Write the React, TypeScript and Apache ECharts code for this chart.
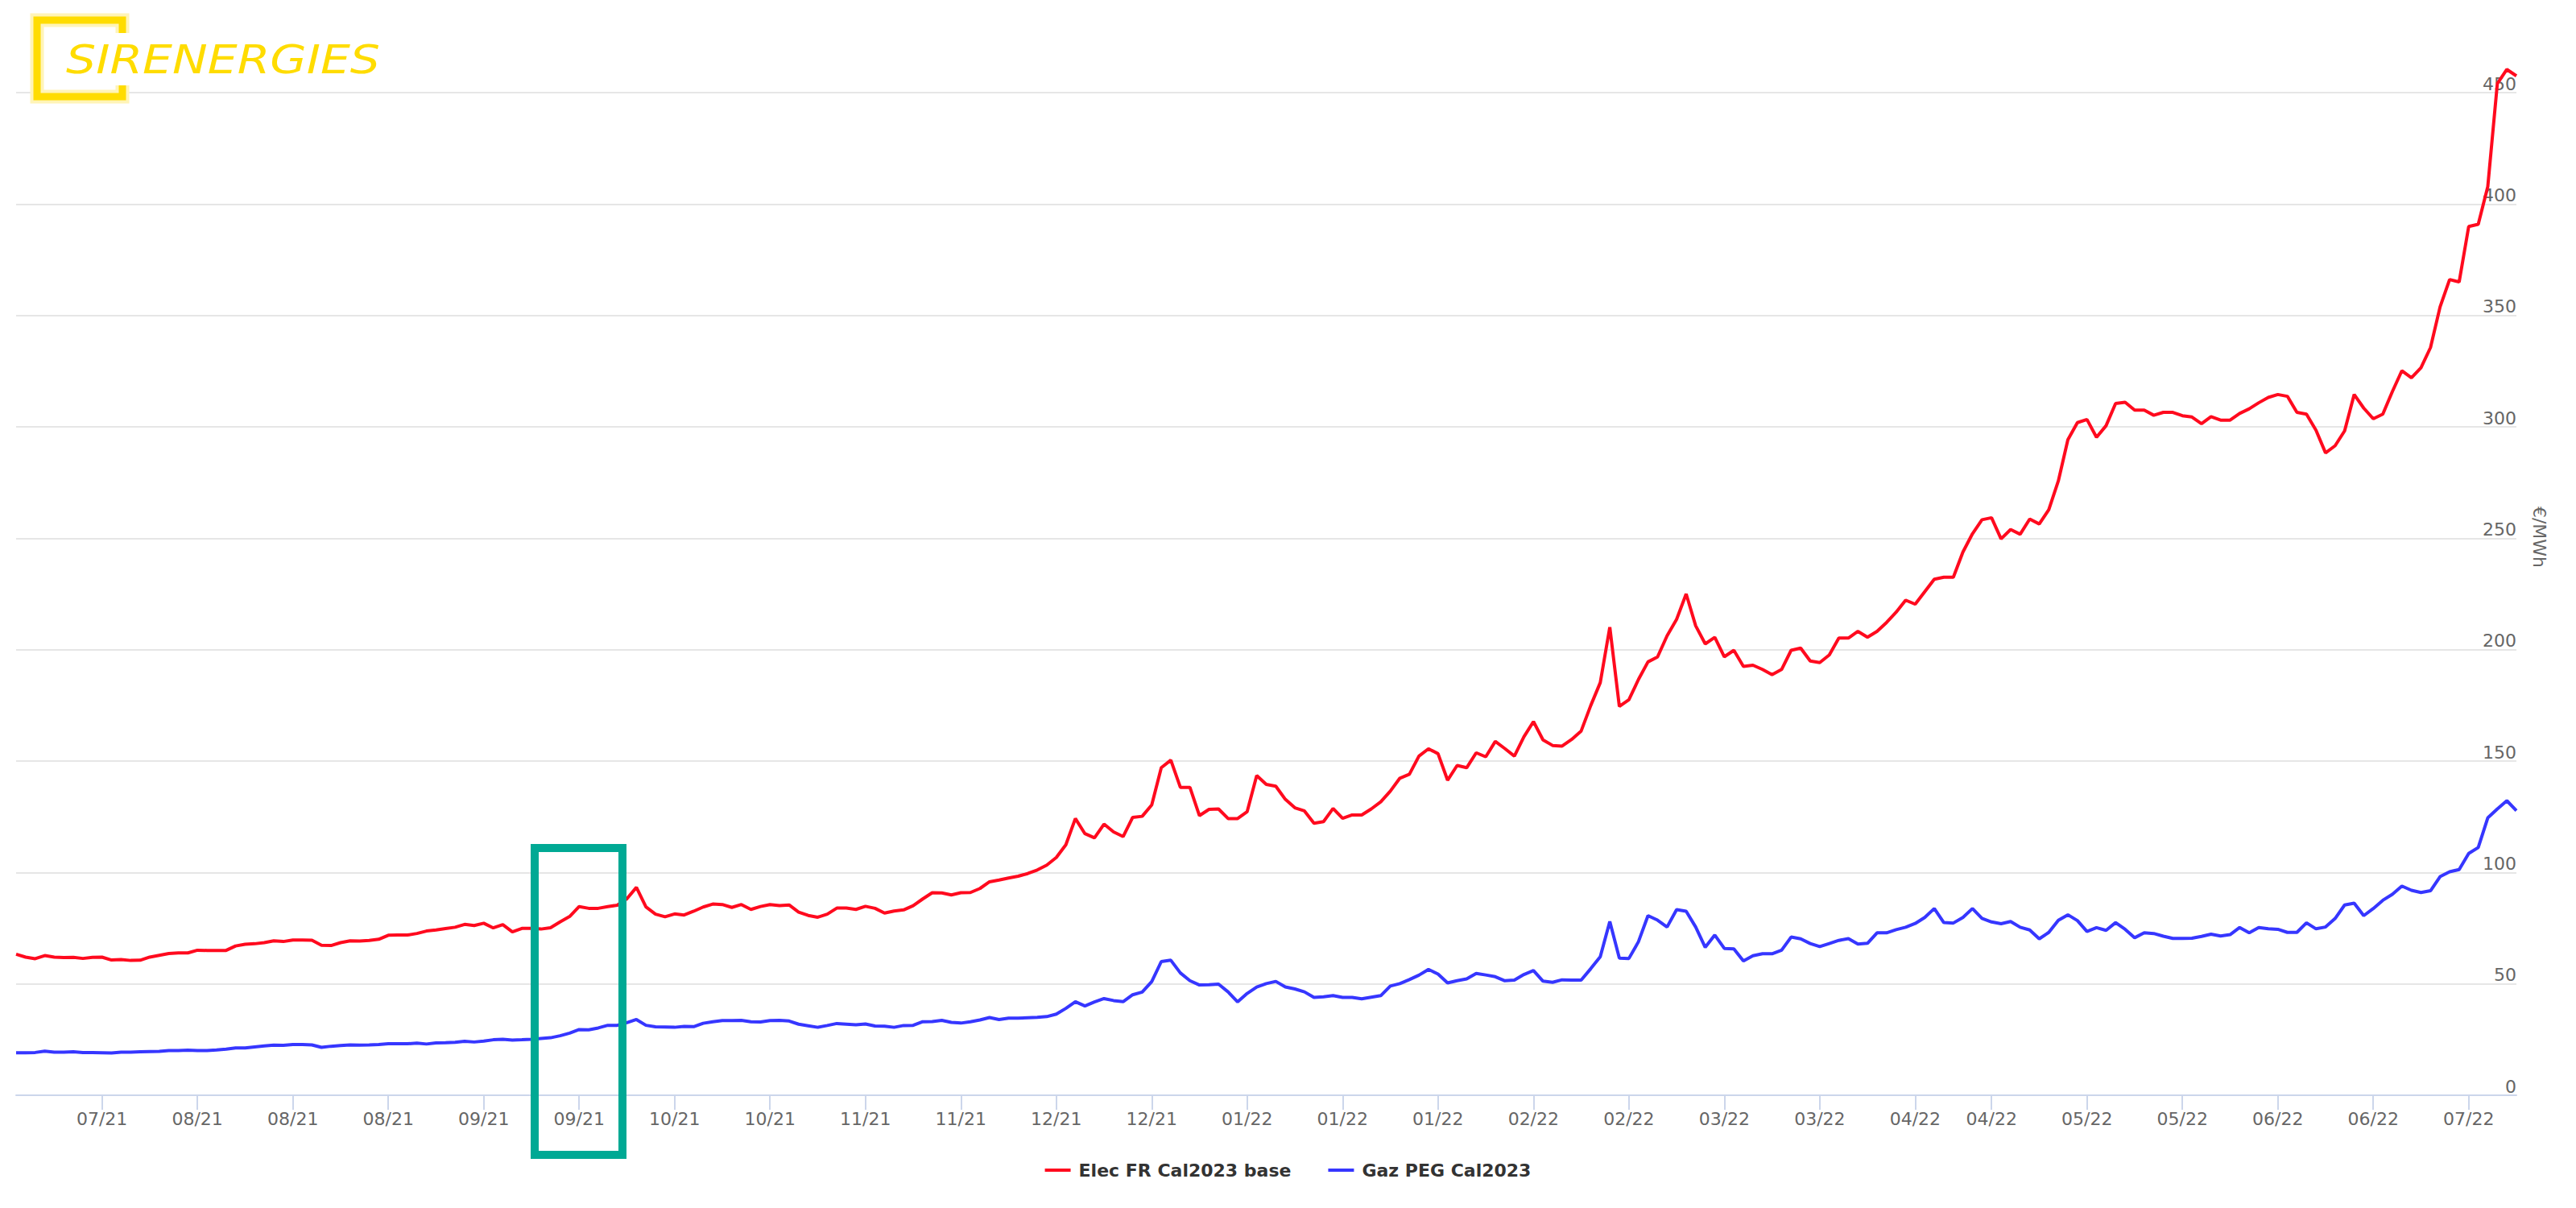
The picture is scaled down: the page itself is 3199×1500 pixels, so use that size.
import { useEffect, useRef } from "react";
import * as echarts from "echarts";

// ---- Data -------------------------------------------------------------
const FIRST_TRADING_DAY = "2021-07-06";
const MARKET_HOLIDAYS = ["2022-04-15", "2022-04-18"];
const TICK_ANCHOR_DAY = "2021-07-19";
const TICK_EVERY_DAYS = 14;

const SERIES_NAMES = ["Elec FR Cal2023 base", "Gaz PEG Cal2023"];
const SERIES_COLORS = ["#FF0A1E", "#3636FF"];
const UNIT_LABEL = "€/MWh";
const LOGO_TEXT = "SIRENERGIES";

const Y_MIN = 0;
const Y_MAX = 450;
const Y_STEP = 50;

const ELEC_FR_CAL2023 = [
  63.3, 62.0, 61.3, 62.7, 62.0, 61.8, 61.9, 61.4, 61.9, 62.0,
  60.7, 60.9, 60.5, 60.6, 62.0, 62.8, 63.6, 63.9, 63.9, 65.1,
  65.0, 65.0, 65.0, 67.0, 67.8, 68.0, 68.5, 69.3, 69.0, 69.7,
  69.7, 69.6, 67.3, 67.2, 68.5, 69.3, 69.2, 69.5, 70.0, 71.8,
  71.9, 71.9, 72.6, 73.7, 74.2, 74.8, 75.4, 76.7, 76.2, 77.2,
  75.1, 76.6, 73.3, 74.9, 74.9, 74.6, 75.2, 77.8, 80.2, 84.7,
  83.9, 83.9, 84.7, 85.3, 88.2, 93.3, 84.5, 81.3, 80.1, 81.4,
  80.9, 82.6, 84.5, 85.8, 85.6, 84.3, 85.6, 83.4, 84.7, 85.6,
  85.1, 85.4, 82.2, 80.7, 79.9, 81.3, 84.0, 84.0, 83.4, 84.8,
  83.9, 81.8, 82.7, 83.2, 85.1, 88.1, 90.9, 90.8, 89.9, 90.9,
  91.0, 92.8, 95.8, 96.6, 97.5, 98.3, 99.5, 101.1, 103.3, 106.7,
  112.4, 124.2, 117.4, 115.5, 121.7, 118.2, 116.1, 124.7, 125.2, 130.3,
  147.0, 150.4, 138.2, 138.2, 125.5, 128.3, 128.5, 124.2, 124.2, 127.3,
  143.5, 139.5, 138.7, 132.8, 129.0, 127.6, 122.1, 122.8, 128.7, 124.3,
  125.8, 125.8, 128.5, 131.7, 136.5, 142.3, 144.1, 152.2, 155.5, 153.3,
  141.4, 148.0, 147.0, 153.7, 151.9, 158.8, 155.6, 152.2, 160.9, 167.7,
  159.5, 157.0, 156.7, 159.7, 163.5, 174.9, 185.2, 210.1, 174.5, 177.5,
  186.6, 194.5, 196.7, 206.2, 213.6, 225.0, 210.7, 202.6, 205.5, 196.8,
  199.7, 192.5, 193.0, 191.1, 188.8, 191.1, 199.7, 200.7, 194.9, 194.2,
  197.6, 205.2, 205.2, 208.2, 205.6, 208.2, 212.2, 216.8, 222.2, 220.4,
  226.0, 231.6, 232.5, 232.5, 243.8, 252.0, 258.3, 259.2, 249.7, 253.9,
  251.8, 258.6, 256.4, 262.8, 275.7, 294.2, 301.9, 303.3, 295.3, 300.5,
  310.5, 311.0, 307.5, 307.5, 305.2, 306.5, 306.5, 305.0, 304.4, 301.4,
  304.6, 303.0, 303.0, 306.0, 308.1, 310.8, 313.2, 314.5, 313.7, 306.5,
  305.7, 298.5, 288.3, 291.5, 298.2, 314.5, 308.4, 303.6, 305.7, 315.8,
  325.2, 322.0, 326.5, 335.6, 353.8, 366.1, 365.0, 389.9, 390.9, 407.8,
  454.0, 460.4, 457.5,
];

const GAZ_PEG_CAL2023 = [
  19.1, 19.1, 19.2, 19.8, 19.3, 19.3, 19.5, 19.2, 19.2, 19.1,
  19.0, 19.3, 19.3, 19.5, 19.6, 19.7, 20.1, 20.1, 20.2, 20.1,
  20.1, 20.3, 20.7, 21.2, 21.2, 21.7, 22.1, 22.5, 22.4, 22.8,
  22.8, 22.6, 21.5, 22.0, 22.3, 22.6, 22.5, 22.6, 22.8, 23.1,
  23.1, 23.1, 23.4, 23.0, 23.5, 23.6, 23.8, 24.2, 23.9, 24.3,
  24.9, 25.1, 24.8, 24.9, 25.1, 25.5, 25.8, 26.7, 27.9, 29.5,
  29.4, 30.2, 31.4, 31.4, 32.6, 34.0, 31.4, 30.7, 30.6, 30.5,
  30.9, 30.8, 32.3, 33.0, 33.5, 33.5, 33.6, 33.0, 32.9, 33.5,
  33.6, 33.3, 31.9, 31.2, 30.5, 31.3, 32.2, 31.9, 31.6, 32.0,
  31.1, 31.0, 30.5, 31.3, 31.4, 33.0, 33.1, 33.6, 32.7, 32.4,
  33.0, 33.8, 34.9, 34.0, 34.6, 34.6, 34.8, 35.0, 35.3, 36.4,
  39.0, 42.0, 40.1, 41.9, 43.4, 42.5, 42.0, 45.1, 46.3, 51.0,
  60.0, 60.6, 54.9, 51.4, 49.5, 49.6, 49.9, 46.4, 41.9, 45.7,
  48.6, 50.1, 51.1, 48.6, 47.7, 46.4, 43.9, 44.2, 44.7, 43.9,
  43.9, 43.3, 44.0, 44.7, 49.0, 50.1, 51.9, 53.9, 56.5, 54.4,
  50.4, 51.4, 52.2, 54.7, 54.0, 53.2, 51.4, 51.7, 54.2, 56.0,
  51.2, 50.7, 51.8, 51.7, 51.7, 56.8, 62.2, 78.0, 61.5, 61.4,
  68.9, 80.6, 78.6, 75.5, 83.3, 82.6, 75.5, 66.4, 71.9, 65.9,
  65.7, 60.3, 62.6, 63.5, 63.5, 65.1, 71.0, 70.2, 68.1, 66.7,
  68.1, 69.5, 70.3, 67.9, 68.2, 72.9, 72.9, 74.3, 75.4, 77.1,
  79.8, 83.8, 77.5, 77.3, 79.8, 83.8, 79.4, 77.8, 77.0, 78.0,
  75.4, 74.2, 70.2, 73.1, 78.5, 81.0, 78.4, 73.5, 75.2, 74.0,
  77.5, 74.5, 70.7, 72.9, 72.6, 71.4, 70.4, 70.4, 70.5, 71.3,
  72.3, 71.5, 72.1, 75.3, 72.9, 75.3, 74.7, 74.5, 73.1, 73.1,
  77.4, 74.7, 75.5, 79.3, 85.4, 86.2, 80.6, 83.8, 87.5, 90.2,
  93.9, 92.0, 91.0, 91.8, 98.1, 100.3, 101.3, 108.5, 111.2, 124.5,
  128.5, 132.2, 127.7,
];

// ---- Helpers ----------------------------------------------------------
function buildTradingDays(start: string, count: number, holidays: string[]): string[] {
  const out: string[] = [];
  const d = new Date(start + "T00:00:00Z");
  while (out.length < count) {
    const dow = d.getUTCDay();
    const iso = d.toISOString().slice(0, 10);
    if (dow !== 0 && dow !== 6 && holidays.indexOf(iso) < 0) out.push(iso);
    d.setUTCDate(d.getUTCDate() + 1);
  }
  return out;
}

const DAY_MS = 86400000;
const anchorMs = Date.parse(TICK_ANCHOR_DAY + "T00:00:00Z");
function isTickDay(iso: string): boolean {
  const diff = Math.round((Date.parse(iso + "T00:00:00Z") - anchorMs) / DAY_MS);
  return diff >= 0 && diff % TICK_EVERY_DAYS === 0;
}
function monthLabel(iso: string): string {
  return iso.slice(5, 7) + "/" + iso.slice(2, 4);
}

const FONT = "DejaVu Sans";

export default function App() {
  const ref = useRef<HTMLDivElement>(null);

  useEffect(() => {
    if (!ref.current) return;
    const chart = echarts.init(ref.current, undefined, { renderer: "svg" });
    const dates = buildTradingDays(FIRST_TRADING_DAY, ELEC_FR_CAL2023.length, MARKET_HOLIDAYS);

    const bracket = [
      [152, 41],
      [152, 25],
      [46, 25],
      [46, 120],
      [152, 120],
      [152, 106],
    ];

    chart.setOption({
      animation: false,
      backgroundColor: "#ffffff",
      textStyle: { fontFamily: FONT },
      grid: { left: 20, right: 74, top: 115, bottom: 140, containLabel: false },
      legend: {
        left: "center",
        top: 1437,
        icon: "rect",
        itemWidth: 32,
        itemHeight: 4,
        itemGap: 46,
        data: SERIES_NAMES,
        textStyle: {
          fontFamily: FONT,
          fontSize: 22,
          fontWeight: "bold",
          color: "#333333",
          padding: [0, 0, 0, 5],
        },
      },
      xAxis: {
        type: "category",
        data: dates,
        boundaryGap: false,
        axisLine: { lineStyle: { color: "#ccd6eb", width: 2 } },
        axisTick: {
          show: true,
          interval: (_i: number, v: string) => isTickDay(v),
          length: 18,
          lineStyle: { color: "#ccd6eb", width: 2 },
        },
        axisLabel: {
          interval: (_i: number, v: string) => isTickDay(v),
          formatter: (v: string) => monthLabel(v),
          color: "#666666",
          fontSize: 22,
          fontFamily: FONT,
          margin: 18,
        },
        splitLine: { show: false },
      },
      yAxis: {
        type: "value",
        position: "right",
        min: Y_MIN,
        max: Y_MAX,
        interval: Y_STEP,
        axisLine: { show: false },
        axisTick: { show: false },
        axisLabel: {
          inside: true,
          margin: 0,
          color: "#666666",
          fontSize: 22,
          fontFamily: FONT,
          verticalAlign: "bottom",
        },
        splitLine: { lineStyle: { color: "#e6e6e6", width: 2 } },
      },
      series: [
        {
          name: SERIES_NAMES[0],
          type: "line",
          data: ELEC_FR_CAL2023,
          symbol: "none",
          clip: false,
          color: SERIES_COLORS[0],
          lineStyle: { color: SERIES_COLORS[0], width: 4 },
          emphasis: { disabled: true },
        },
        {
          name: SERIES_NAMES[1],
          type: "line",
          data: GAZ_PEG_CAL2023,
          symbol: "none",
          clip: false,
          color: SERIES_COLORS[1],
          lineStyle: { color: SERIES_COLORS[1], width: 4 },
          emphasis: { disabled: true },
        },
      ],
      graphic: [
        {
          type: "polyline",
          z: 100,
          shape: { points: bracket },
          style: { stroke: "#FFF4B8", lineWidth: 17, fill: null, lineJoin: "miter" },
        },
        {
          type: "polyline",
          z: 101,
          shape: { points: bracket },
          style: { stroke: "#FFDC00", lineWidth: 9, fill: null, lineJoin: "miter" },
        },
        {
          type: "text",
          z: 101,
          x: 82,
          y: 74,
          scaleX: 1.17,
          style: {
            text: LOGO_TEXT,
            x: 0,
            y: 0,
            align: "left",
            verticalAlign: "middle",
            font: "italic 50px 'DejaVu Sans'",
            fill: "#FFDC00",
          },
        },
        {
          type: "text",
          z: 101,
          x: 3153,
          y: 667,
          rotation: -Math.PI / 2,
          style: {
            text: UNIT_LABEL,
            x: 0,
            y: 0,
            align: "center",
            verticalAlign: "middle",
            font: "22px 'DejaVu Sans'",
            fill: "#666666",
          },
        },
        {
          type: "rect",
          z: 120,
          shape: { x: 664, y: 1053, width: 109, height: 381 },
          style: { fill: null, stroke: "#00A994", lineWidth: 10 },
        },
      ],
    });

    return () => chart.dispose();
  }, []);

  return (
    <div
      ref={ref}
      style={{ position: "absolute", left: 0, top: 0, width: "3199px", height: "1500px", background: "#fff" }}
    />
  );
}
